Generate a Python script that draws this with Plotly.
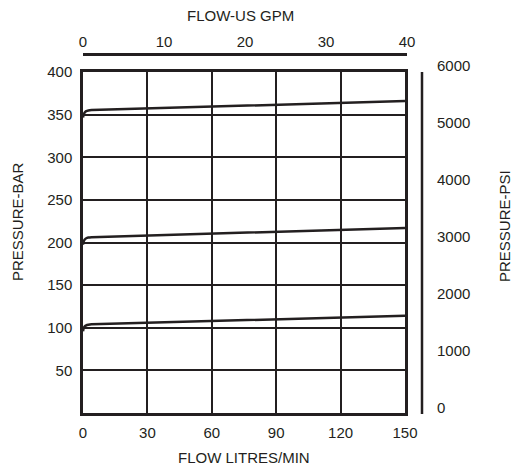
import plotly.graph_objects as go

# ---- data ----
flow_lpm = [0, 0.3, 0.8, 1.5, 2.5, 4, 150]
bar_low = [96, 99.5, 101.5, 102.8, 103.5, 104, 114]
bar_mid = [197.5, 201, 203.5, 205, 205.8, 206.3, 217]
bar_high = [346.5, 350, 352.5, 354, 354.8, 355.3, 366]

x_ticks = [0, 30, 60, 90, 120, 150]
y_ticks = [50, 100, 150, 200, 250, 300, 350, 400]
gpm_ticks = [0, 10, 20, 30, 40]
psi_ticks = [0, 1000, 2000, 3000, 4000, 5000, 6000]

INK = "#231f20"
FONT = "Liberation Sans, Arial, sans-serif"
FS = 15

W, H = 513, 467
L, R, T, B = 83, 91, 54, 54
PW, PH = W - L - R, H - T - B

def px(xp):
    return (xp - L) / PW

def py(yp):
    return (H - B - yp) / PH

fig = go.Figure()
for ys in (bar_low, bar_mid, bar_high):
    fig.add_trace(go.Scatter(x=flow_lpm, y=ys, mode="lines",
                             line=dict(color=INK, width=2.5, shape="spline", smoothing=0.6),
                             showlegend=False, hoverinfo="skip"))
# secondary axes carrier
fig.add_trace(go.Scatter(x=[None], y=[None], xaxis="x2", yaxis="y2",
                         showlegend=False, hoverinfo="skip"))

xdom_end = (405 - L) / PW
ydom_end = (413 - 72) / PH

fig.update_layout(
    width=W, height=H,
    margin=dict(l=L, r=R, t=T, b=B, pad=0),
    paper_bgcolor="white",
    plot_bgcolor="rgba(0,0,0,0)",
    font=dict(family=FONT, size=FS, color=INK),
    xaxis=dict(domain=[0, xdom_end], range=[0, 150], tickvals=x_ticks,
               showgrid=True, gridcolor=INK, gridwidth=2,
               showline=True, linecolor=INK, linewidth=2.5, mirror=True,
               zeroline=False, ticks="", ticklabelstandoff=4,
               tickfont=dict(size=FS, color=INK)),
    yaxis=dict(domain=[0, ydom_end], range=[0, 400], tickvals=y_ticks,
               showgrid=True, gridcolor=INK, gridwidth=2,
               showline=True, linecolor=INK, linewidth=2.5, mirror=True,
               zeroline=False, ticks="", ticklabelstandoff=5,
               tickfont=dict(size=FS, color=INK)),
    xaxis2=dict(domain=[0, (407 - L) / PW], range=[0, 40], tickvals=gpm_ticks,
                side="top", anchor="free", position=1,
                showgrid=False, zeroline=False,
                showline=True, linecolor=INK, linewidth=2.5,
                ticks="", ticklabelstandoff=0,
                tickfont=dict(size=FS, color=INK)),
    yaxis2=dict(domain=[0, 1], range=[-88, 6210], tickvals=psi_ticks,
                side="right", anchor="free", position=1,
                showgrid=False, zeroline=False, showline=False,
                ticks="", ticklabelstandoff=14,
                tickfont=dict(size=FS, color=INK)),
    shapes=[dict(type="line", xref="paper", yref="paper",
                 x0=1, x1=1, y0=py(414), y1=py(72),
                 line=dict(color=INK, width=2.5))],
    annotations=[
        dict(text="FLOW-US GPM", xref="paper", yref="paper", x=px(240), y=py(15),
             showarrow=False, xanchor="center", yanchor="middle",
             font=dict(size=FS, color=INK)),
        dict(text="FLOW LITRES/MIN", xref="paper", yref="paper", x=px(244), y=py(457),
             showarrow=False, xanchor="center", yanchor="middle",
             font=dict(size=FS, color=INK)),
        dict(text="PRESSURE-BAR", xref="paper", yref="paper", x=px(17), y=py(222),
             showarrow=False, xanchor="center", yanchor="middle", textangle=-90,
             font=dict(size=FS, color=INK)),
        dict(text="PRESSURE-PSI", xref="paper", yref="paper", x=px(504), y=py(226),
             showarrow=False, xanchor="center", yanchor="middle", textangle=-90,
             font=dict(size=FS, color=INK)),
    ],
)

fig.write_html("out.html", config={"displayModeBar": False},
               post_script="document.body.style.margin='0px';document.body.style.overflow='hidden';")
